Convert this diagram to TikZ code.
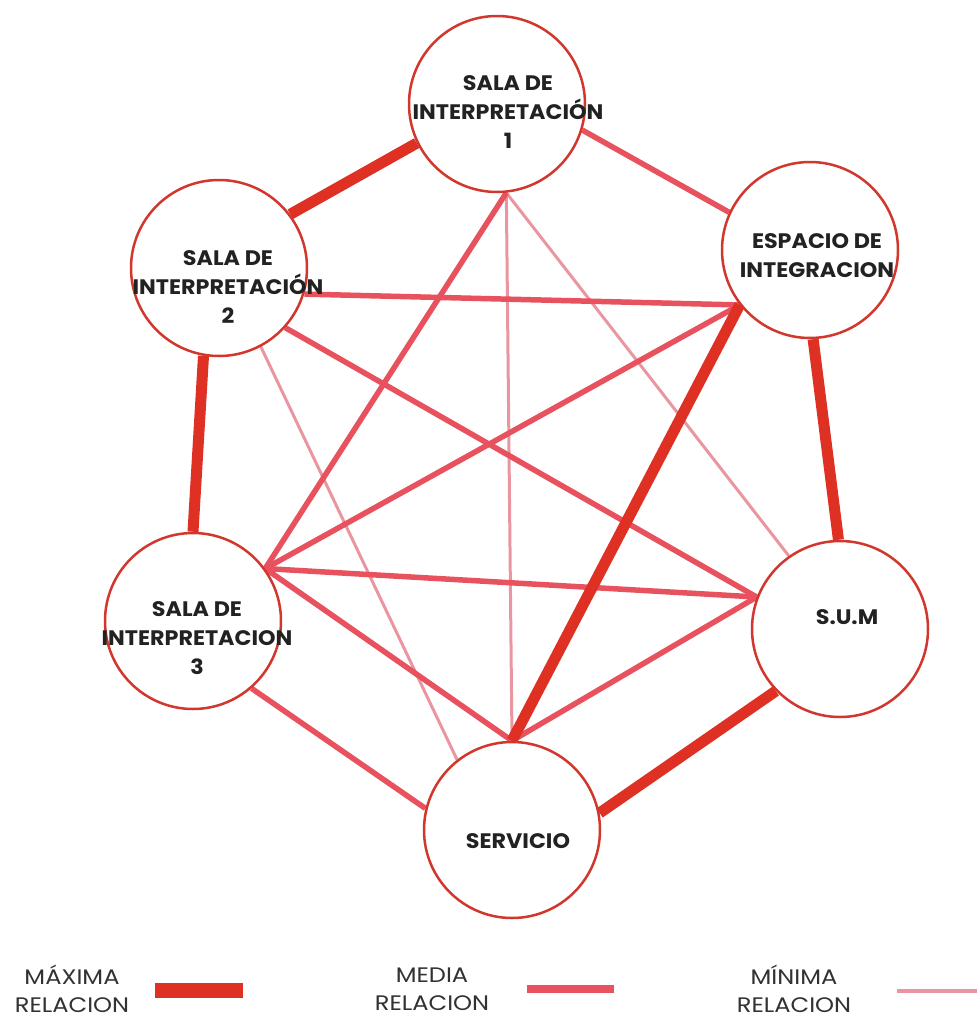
\documentclass[tikz,border=0pt]{standalone}
\usepackage{fontspec}
\setmainfont{Poppins}
\newfontfamily\roomfont[FakeStretch=1.06]{Poppins}
\newfontfamily\legfont[FakeStretch=1.15]{Poppins}
\usetikzlibrary{backgrounds}
\definecolor{maxc}{RGB}{223,48,36}
\definecolor{medc}{RGB}{232,82,94}
\definecolor{minc}{RGB}{233,150,161}
\definecolor{ringc}{RGB}{210,55,45}
\definecolor{txtc}{RGB}{34,34,34}
\definecolor{legc}{RGB}{50,50,50}
\tikzset{
  room/.style={circle, draw=ringc, line width=2.5pt, fill=white, minimum size=176pt, inner sep=0pt},
  roomtext/.style={align=center, text=txtc, font=\roomfont\fontsize{21}{29}\selectfont\bfseries, inner sep=0pt},
  legtext/.style={align=center, text=legc, font=\legfont\fontsize{21}{28}\selectfont, inner sep=0pt},
  maxrel/.style={draw=maxc, line width=11pt},
  medrel/.style={draw=medc, line width=5.5pt},
  minrel/.style={draw=minc, line width=3pt},
}
\begin{document}
\begin{tikzpicture}[x=1pt,y=-1pt]
\useasboundingbox (0,0) rectangle (977,1018);
% rooms
\node[room] (s1) at (497,104) {};
\node[room] (s2) at (219,268) {};
\node[room] (es) at (810,250) {};
\node[room] (s3) at (193,621) {};
\node[room] (sum) at (840,629) {};
\node[room] (sv) at (512,830) {};
% connectors
\begin{scope}[on background layer]
\draw[minrel] (s1.276) -- (sv.90);
\draw[minrel] (s1.276) -- (sum.125);
\draw[minrel] (s2.298) -- (sv.128);
\draw[medrel] (s1.343) -- (es.155);
\draw[medrel] (s2.343) -- (es.218);
\draw[medrel] (s2.318) -- (sum.159);
\draw[medrel] (s1.276) -- (s3.36);
\draw[medrel] (es.218) -- (s3.36);
\draw[medrel] (s3.36) -- (sum.159);
\draw[medrel] (s3.36) -- (sv.90);
\draw[medrel] (sum.159) -- (sv.90);
\draw[medrel] (s3.311) -- (sv.166);
\draw[maxrel] (s1.206) -- (s2.37);
\draw[maxrel] (s2.260) -- (s3.90);
\draw[maxrel] (es.272) -- (sum.91);
\draw[maxrel] (sum.224) -- (sv.11);
\draw[maxrel] (es.218) -- (sv.90);
\end{scope}
% labels
\node[roomtext] (t1) at (508,112) {SALA DE\\INTERPRETACIÓN\\1};
\node[roomtext] (t2) at (228,287) {SALA DE\\INTERPRETACIÓN\\2};
\node[roomtext] (te) at (817,256) {ESPACIO DE\\INTEGRACION};
\node[roomtext] (t3) at (197,638) {SALA DE\\INTERPRETACION\\3};
\node[roomtext] (tsum) at (847,617) {S.U.M};
\node[roomtext] (tsv) at (518,841) {SERVICIO};
% legend
\node[legtext] (lmax) at (72,989) {MÁXIMA\\RELACION};
\node[legtext] (lmed) at (432,989) {MEDIA\\RELACION};
\node[legtext] (lmin) at (794,989) {MÍNIMA\\RELACION};
\coordinate (bmaxa) at (155,990.5);
\coordinate (bmaxb) at (243,990.5);
\coordinate (bmeda) at (527,988.5);
\coordinate (bmedb) at (614,988.5);
\coordinate (bmina) at (897,990.5);
\coordinate (bminb) at (977,990.5);
\draw[maxrel, line width=15pt] (bmaxa) -- (bmaxb);
\draw[medrel, line width=8pt] (bmeda) -- (bmedb);
\draw[minrel, line width=4pt] (bmina) -- (bminb);
\end{tikzpicture}
\end{document}
